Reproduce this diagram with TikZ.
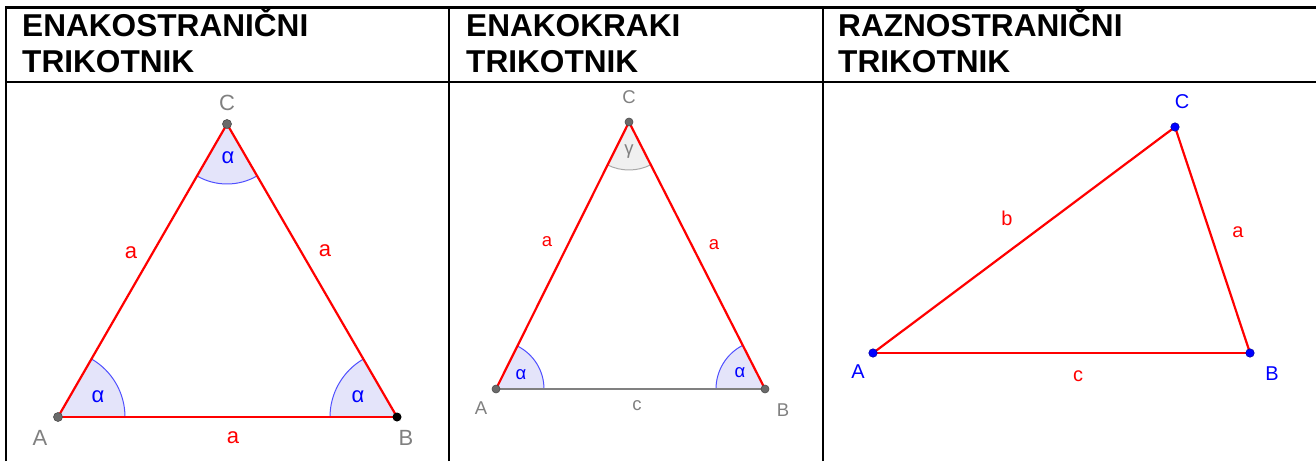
\documentclass[tikz,border=0pt]{standalone}
\usepackage{fontspec}
\setmainfont{Liberation Sans}
\usetikzlibrary{angles}
\definecolor{ggred}{HTML}{FF0000}
\definecolor{ggblue}{HTML}{0000FF}
\definecolor{ggarc}{HTML}{5050FF}
\definecolor{ggfill}{HTML}{E4E4FA}
\definecolor{gggray}{HTML}{808080}
\definecolor{ggdot}{HTML}{6A6A6A}
\definecolor{gggfill}{HTML}{F0F0F0}
\definecolor{gggarc}{HTML}{A8A8A8}
\begin{document}
\begin{tikzpicture}[x=1pt,y=1pt,
  frame/.style={line width=2.6pt,black},
  head/.style={anchor=base west,inner sep=0pt,font=\fontsize{31.6}{36}\selectfont\bfseries,align=left},
  side/.style={ggred,line width=2.2pt},
  base2/.style={gggray,line width=2.2pt},
  dotg/.style={circle,inner sep=0pt,minimum size=9pt,fill=ggdot,draw=black!70,line width=0.6pt},
  dotk/.style={circle,inner sep=0pt,minimum size=9pt,fill=black},
  dotb/.style={circle,inner sep=0pt,minimum size=8.5pt,fill=ggblue,draw=ggblue!60!black,line width=0.5pt},
  lblg/.style={gggray,inner sep=0pt},
  lblr/.style={ggred,inner sep=0pt},
  lblb/.style={ggblue,inner sep=0pt},
  ang/.style={draw=ggarc,line width=1pt,fill=ggfill},
  angg/.style={draw=gggarc,line width=1pt,fill=gggfill}]
\useasboundingbox (0,0) rectangle (1316,461);
% table frame
\draw[frame] (6,453.5) -- (1316,453.5);
\draw[frame] (6,379) -- (1316,379);
\draw[frame] (6,0) -- (6,454.8);
\draw[frame] (449,0) -- (449,454.8);
\draw[frame] (823,0) -- (823,454.8);
% headers
\node[head] (h1) at (22,424) {ENAKOSTRANIČNI};
\node[head] (h1b) at (22,388) {TRIKOTNIK};
\node[head] (h2) at (466,424) {ENAKOKRAKI};
\node[head] (h2b) at (466,388) {TRIKOTNIK};
\node[head] (h3) at (838,424) {RAZNOSTRANIČNI};
\node[head] (h3b) at (838,388) {TRIKOTNIK};
% ---------- panel 1
\coordinate (A1) at (58,44);
\coordinate (B1) at (397,44);
\coordinate (C1) at (227,337);
\pic[ang,angle radius=67pt] {angle=B1--A1--C1};
\pic[ang,angle radius=67pt] {angle=C1--B1--A1};
\pic[ang,angle radius=60pt] {angle=A1--C1--B1};
\draw[side] (A1) -- (B1);
\draw[side] (B1) -- (C1);
\draw[side] (C1) -- (A1);
\node[dotg] (pA1) at (A1) {};
\node[dotk] (pB1) at (B1) {};
\node[dotg] (pC1) at (C1) {};
\begin{scope}[every node/.append style={font=\fontsize{22}{26}\selectfont}]
\node[lblg] (tA1) at (40,23) {A};
\node[lblg] (tB1) at (406,23) {B};
\node[lblg] (tC1) at (227,358) {C};
\node[lblr] (sa1) at (131,208) {a};
\node[lblr] (sa2) at (325,210) {a};
\node[lblr] (sa3) at (233,23) {a};
\node[lblb] (al1) at (98,64) {α};
\node[lblb] (al2) at (358,64) {α};
\node[lblb] (al3) at (228,303) {α};
\end{scope}
% ---------- panel 2
\coordinate (A2) at (496,72);
\coordinate (B2) at (765,72);
\coordinate (C2) at (629,339);
\pic[ang,angle radius=48pt] {angle=B2--A2--C2};
\pic[ang,angle radius=49pt] {angle=C2--B2--A2};
\pic[angg,angle radius=48pt] {angle=A2--C2--B2};
\draw[base2] (A2) -- (B2);
\draw[side] (B2) -- (C2);
\draw[side] (C2) -- (A2);
\node[dotg,minimum size=8pt] (pA2) at (A2) {};
\node[dotg,minimum size=8pt] (pB2) at (B2) {};
\node[dotg,minimum size=8pt] (pC2) at (C2) {};
\begin{scope}[every node/.append style={font=\fontsize{18.5}{22}\selectfont}]
\node[lblg] (tA2) at (481,53) {A};
\node[lblg] (tB2) at (783,51) {B};
\node[lblg] (tC2) at (629,364) {C};
\node[lblr] (sb1) at (547,219) {a};
\node[lblr] (sb2) at (714,216) {a};
\node[lblg] (sc2) at (637,55) {c};
\node[lblb] (bl1) at (521,86) {α};
\node[lblb] (bl2) at (740,88) {α};
\node[lblg] (gm2) at (629,309) {γ};
\end{scope}
% ---------- panel 3
\coordinate (A3) at (873,108);
\coordinate (B3) at (1250,108);
\coordinate (C3) at (1175,334);
\draw[side] (A3) -- (B3);
\draw[side] (B3) -- (C3);
\draw[side] (C3) -- (A3);
\node[dotb] (pA3) at (A3) {};
\node[dotb] (pB3) at (B3) {};
\node[dotb] (pC3) at (C3) {};
\begin{scope}[every node/.append style={font=\fontsize{20}{24}\selectfont}]
\node[lblb] (tA3) at (858,89) {A};
\node[lblb] (tB3) at (1272,87) {B};
\node[lblb] (tC3) at (1182,359) {C};
\node[lblr] (sc1) at (1007,243) {b};
\node[lblr] (sc3) at (1238,229) {a};
\node[lblr] (sc4) at (1078,85) {c};
\end{scope}
\end{tikzpicture}
\end{document}
